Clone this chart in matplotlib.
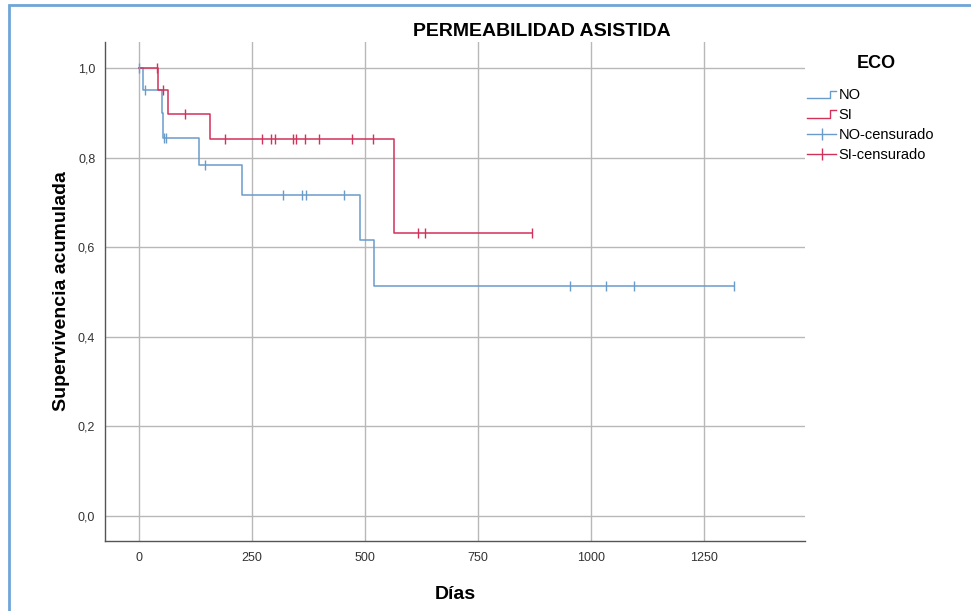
import matplotlib

matplotlib.use("Agg")
import matplotlib.pyplot as plt
import numpy as np
from matplotlib.legend_handler import HandlerBase
from matplotlib.lines import Line2D
from matplotlib.patches import Rectangle

plt.rcParams["font.family"] = ["Liberation Sans", "DejaVu Sans"]

BLUE = "#6a9ccb"
RED = "#d2325a"
GRID = "#b8b8b8"
FRAME = "#6fa6d6"

# Kaplan-Meier steps (days, cumulative survival) and censored times per group
no_t = [0, 10, 51, 54, 132, 229, 488, 520, 1315]
no_s = [1.0, 0.95, 0.90, 0.843, 0.783, 0.717, 0.615, 0.513, 0.513]
no_cens = [1, 13, 56, 59, 146, 318, 361, 370, 453, 953, 1034, 1094, 1315]

si_t = [0, 43, 65, 158, 565, 870]
si_s = [1.0, 0.95, 0.897, 0.841, 0.631, 0.631]
si_cens = [39, 54, 103, 190, 273, 291, 300, 341, 347, 367, 398, 472, 517,
           618, 632, 870]

x_ticks = [0, 250, 500, 750, 1000, 1250]
y_ticks = [0.0, 0.2, 0.4, 0.6, 0.8, 1.0]


def surv_at(t_steps, s_steps, t):
    idx = np.searchsorted(t_steps, t, side="right") - 1
    return np.asarray(s_steps)[idx]


class StepHandler(HandlerBase):
    """little step icon for the curve entries of the legend"""

    def create_artists(self, legend, orig_handle, xdescent, ydescent,
                       width, height, fontsize, trans):
        x0 = -xdescent
        y0 = -ydescent
        xs = [x0, x0 + 0.78 * width, x0 + 0.78 * width, x0 + width]
        ys = [y0 + 0.1 * height, y0 + 0.1 * height,
              y0 + 0.85 * height, y0 + 0.85 * height]
        ln = Line2D(xs, ys, color=orig_handle.get_color(), lw=1.0)
        ln.set_transform(trans)
        return [ln]


fig = plt.figure(figsize=(9.71, 6.11), dpi=100, facecolor="white")
ax = fig.add_axes([105 / 971, 70 / 611, 700 / 971, 499 / 611])

for t, s, cens, col in ((no_t, no_s, no_cens, BLUE),
                        (si_t, si_s, si_cens, RED)):
    ax.step(t, s, where="post", color=col, lw=1.1, zorder=3)
    ax.plot(cens, surv_at(t, s, cens), ls="none", marker="|",
            markersize=6.5, mew=1.0, color=col, zorder=4)

ax.set_xlim(-75, 1473)
ax.set_ylim(-0.056, 1.058)
ax.set_xticks(x_ticks)
ax.set_yticks(y_ticks)
ax.set_xticklabels([str(v) for v in x_ticks])
ax.set_yticklabels([f"{v:.1f}".replace(".", ",") for v in y_ticks])
ax.tick_params(length=0, labelsize=9, colors="#333333")
ax.tick_params(axis="x", pad=8)
ax.tick_params(axis="y", pad=7)
ax.grid(True, color=GRID, lw=1.0)
ax.set_axisbelow(True)
for side in ("top", "right"):
    ax.spines[side].set_visible(False)
for side in ("left", "bottom"):
    ax.spines[side].set_color("#555555")
    ax.spines[side].set_linewidth(1.0)

ax.set_xlabel("Días", fontsize=14, fontweight="bold", labelpad=16)
ax.set_ylabel("Supervivencia acumulada", fontsize=14, fontweight="bold",
              labelpad=6)
fig.text(542 / 971, 1 - 31 / 611, "PERMEABILIDAD ASISTIDA", fontsize=14,
         fontweight="bold", ha="center", va="center")

h_no = Line2D([], [], color=BLUE)
h_si = Line2D([], [], color=RED)
h_no_c = Line2D([], [], color=BLUE, lw=1.0, marker="|", markersize=8)
h_si_c = Line2D([], [], color=RED, lw=1.0, marker="|", markersize=8)
fig.legend([h_no, h_si, h_no_c, h_si_c],
           ["NO", "SI", "NO-censurado", "SI-censurado"],
           handler_map={h_no: StepHandler(), h_si: StepHandler()},
           loc="upper left", bbox_to_anchor=(800 / 971, 1 - 81 / 611),
           frameon=False, fontsize=10.5, handlelength=2.0,
           handletextpad=0.15, labelspacing=0.4, numpoints=1, borderpad=0)
fig.text(876 / 971, 1 - 63 / 611, "ECO", fontsize=13, fontweight="bold",
         ha="center", va="center")

# outer panel frame
fig.patches.append(Rectangle((9 / 971, -0.05), 1.0, 1 - 5 / 611 + 0.05,
                             transform=fig.transFigure, fill=False,
                             ec=FRAME, lw=2.0))

fig.savefig("out.png", dpi=100, facecolor="white")
